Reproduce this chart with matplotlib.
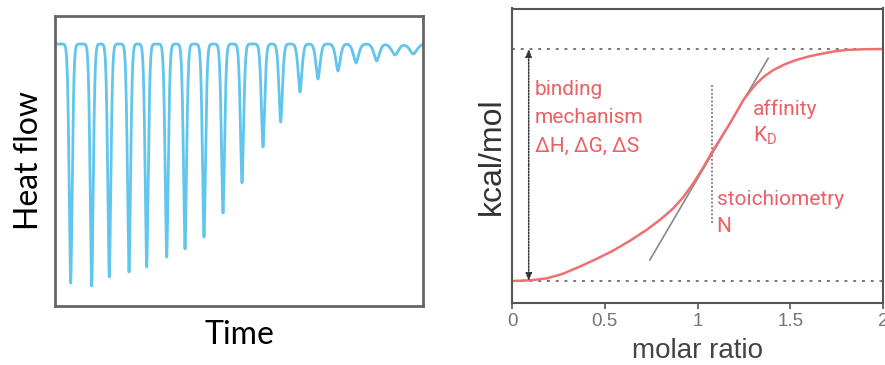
import numpy as np
import matplotlib
matplotlib.use("Agg")
import matplotlib.pyplot as plt

# left panel: injection peaks (time position, dip depth below baseline)
peak_times = [15.7, 36.7, 54.3, 74, 91.7, 111.7, 130, 149, 168, 187,
              208, 225.7, 245, 263, 283, 301, 321.7, 340, 358.3]
peak_depths = [239, 242, 233, 228, 223, 213, 205, 193, 169, 139,
               103, 78, 48, 35, 27, 19, 17, 11, 10]

# right panel: binding isotherm
molar_ratio = [0, 0.1, 0.185, 0.27, 0.365, 0.455, 0.545, 0.635, 0.725, 0.80,
               0.869, 0.925, 0.977, 1.03, 1.079, 1.13, 1.175, 1.215, 1.247,
               1.283, 1.319, 1.36, 1.408, 1.47, 1.534, 1.60, 1.678, 1.74,
               1.804, 1.90, 2.0]
heat = [0, 0.003, 0.011, 0.030, 0.062, 0.095, 0.131, 0.173, 0.220, 0.265,
        0.313, 0.363, 0.421, 0.488, 0.557, 0.622, 0.680, 0.735, 0.780,
        0.818, 0.852, 0.882, 0.909, 0.934, 0.953, 0.968, 0.981, 0.990,
        0.996, 0.999, 1.0]
tangent_x = [0.743, 1.381]
tangent_y = [0.0905, 0.96]
stoich_x = 1.079
xticks = [0, 0.5, 1, 1.5, 2]
xtick_labels = ["0", "0.5", "1", "1.5", "2"]

RED = "#ec5f64"
CURVE = "#ef7073"

fig = plt.figure(figsize=(8.85, 3.65), dpi=100)

# ---- left: raw thermogram
ax1 = fig.add_axes([55 / 885, 1 - 306 / 365, 368 / 885, 290 / 365])
t = np.linspace(0, 368, 6000)
signal = np.zeros_like(t)
for t0, depth in zip(peak_times, peak_depths):
    w = 2.1 + 30 / depth  # small peaks come out broader
    signal -= depth * np.exp(-(np.abs(t - t0) / w) ** 1.7)
ax1.plot(t, signal, color="#62c5ee", lw=2, solid_capstyle="round")
ax1.set_xlim(0, 368)
ax1.set_ylim(-262, 28)
ax1.set_xticks([])
ax1.set_yticks([])
for s in ax1.spines.values():
    s.set_color("#666666")
    s.set_linewidth(2)
ax1.set_xlabel("Time", fontsize=23, family="Lato", labelpad=10)
ax1.set_ylabel("Heat flow", fontsize=23, family="Lato", labelpad=8)

# ---- right: binding isotherm
ax2 = fig.add_axes([512 / 885, 1 - 303 / 365, 371 / 885, 294.5 / 365])
ax2.set_xlim(0, 2)
ax2.set_ylim(-0.0948, 1.1746)
ax2.axhline(0, color="#777777", lw=1.4, ls=(0, (1.5, 3)))
ax2.axhline(1, color="#777777", lw=1.4, ls=(0, (1.5, 3)))
ax2.plot(tangent_x, tangent_y, color="#888888", lw=1.2)
ax2.plot([stoich_x, stoich_x], [0.25, 0.853], color="#888888", lw=1.4, ls=(0, (1, 1)))
ax2.plot(molar_ratio, heat, color=CURVE, lw=1.8)

arrow_x = 0.09
for y_from, y_to in [(0.5, 1.0), (0.5, 0.0)]:
    ax2.annotate("", xy=(arrow_x, y_to), xytext=(arrow_x, y_from),
                 arrowprops=dict(arrowstyle="-|>,head_length=0.45,head_width=0.18",
                                 color="#333333", lw=1.1, ls=(0, (1, 1)),
                                 shrinkA=0, shrinkB=0))

txt = dict(color=RED, fontsize=15, family="Roboto", va="baseline")
ax2.text(0.122, 0.80, "binding", **txt)
ax2.text(0.122, 0.68, "mechanism", **txt)
ax2.text(0.122, 0.557, "ΔH, ΔG, ΔS", **txt)
ax2.text(1.30, 0.716, "affinity", **txt)
ax2.text(1.30, 0.60, r"K$_\mathregular{D}$", **txt)
ax2.text(1.103, 0.328, "stoichiometry", **txt)
ax2.text(1.103, 0.2125, "N", **txt)

ax2.set_yticks([])
ax2.set_xticks(xticks)
ax2.set_xticklabels(xtick_labels, family="Liberation Sans", fontsize=13.5, color="#747474")
ax2.tick_params(axis="x", length=4, width=1.2, color="#555555", pad=3)
for s in ax2.spines.values():
    s.set_color("#555555")
    s.set_linewidth(1.5)
ax2.set_xlabel("molar ratio", fontsize=20, family="Liberation Sans", color="#444444", labelpad=6)
ax2.set_ylabel("kcal/mol", fontsize=23, family="Liberation Sans", color="#333333", labelpad=4)

fig.savefig("out.png", dpi=100)
